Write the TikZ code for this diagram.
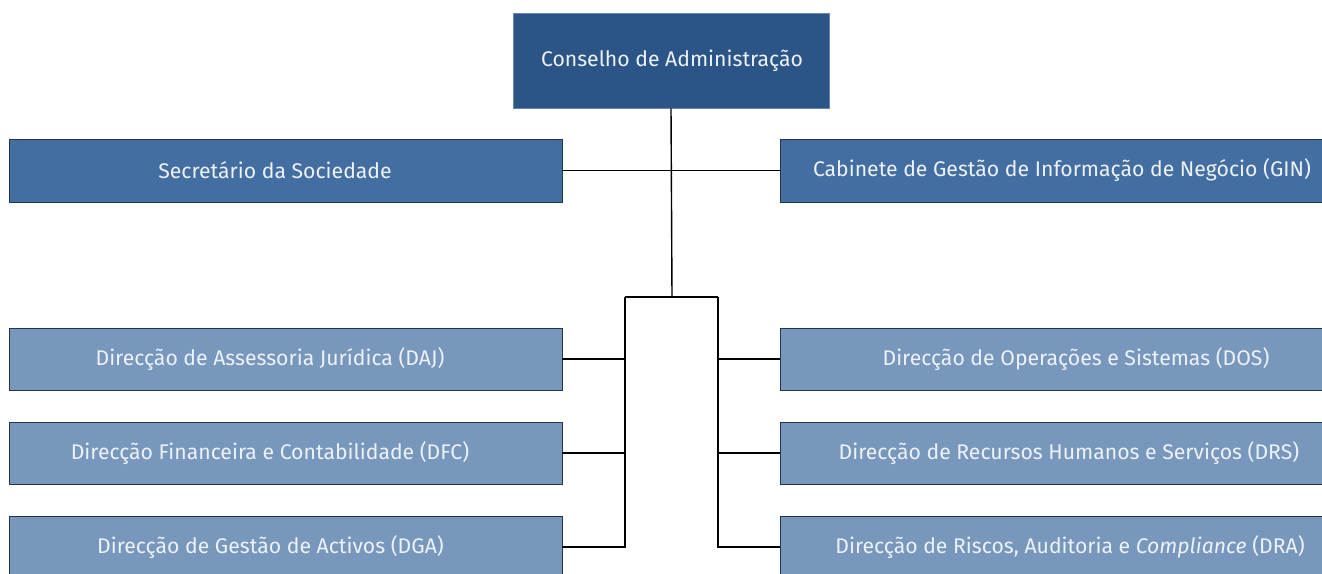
\documentclass[tikz,border=0pt]{standalone}
\usepackage{fontspec}
\setmainfont{Fira Sans}
\definecolor{cTop}{HTML}{2B5586}
\definecolor{cMid}{HTML}{436EA1}
\definecolor{cLow}{HTML}{7897BD}
\definecolor{cEdge}{HTML}{23354D}
\definecolor{cTxt}{HTML}{EEF2F7}
\begin{document}
\begin{tikzpicture}[x=1pt,y=-1pt,
  box/.style={draw=cEdge, line width=0.9pt, rectangle, inner sep=0pt, minimum height=62pt},
  lbl/.style={text=cTxt, font=\fontsize{21.2}{24}\selectfont, inner sep=0pt},
  wire/.style={draw=black, line width=1.4pt}]
\useasboundingbox (0,0) rectangle (1322,573);
\clip (0,0) rectangle (1322,573);
\fill[white] (0,0) rectangle (1322,573);
% boxes
\node[box, fill=cTop, draw=cTop!70!white, minimum width=316pt, minimum height=95pt] (top) at (671,60.5) {};
\node[box, fill=cMid, minimum width=553pt, minimum height=63pt] (sec) at (285.5,170.5) {};
\node[box, fill=cMid, minimum width=560pt, minimum height=63pt] (gin) at (1060,170.5) {};
\node[box, fill=cLow, minimum width=553pt] (daj) at (285.5,359) {};
\node[box, fill=cLow, minimum width=553pt] (dfc) at (285.5,453) {};
\node[box, fill=cLow, minimum width=553pt] (dga) at (285.5,547) {};
\node[box, fill=cLow, minimum width=560pt] (dos) at (1060,359) {};
\node[box, fill=cLow, minimum width=560pt] (drs) at (1060,453) {};
\node[box, fill=cLow, minimum width=560pt] (dra) at (1060,547) {};
% labels
\node[lbl] (ttop) at (672,60.5) {Conselho de Administração};
\node[lbl] (tsec) at (275,170.5) {Secretário da Sociedade};
\node[lbl] (tgin) at (1062,170.5) {Cabinete de Gestão de Informação de Negócio (GIN)};
\node[lbl] (tdaj) at (270,359) {Direcção de Assessoria Jurídica (DAJ)};
\node[lbl] (tdfc) at (270,453) {Direcção Financeira e Contabilidade (DFC)};
\node[lbl] (tdga) at (270.5,547) {Direcção de Gestão de Activos (DGA)};
\node[lbl] (tdos) at (1076,359) {Direcção de Operações e Sistemas (DOS)};
\node[lbl] (tdrs) at (1069,453) {Direcção de Recursos Humanos e Serviços (DRS)};
\node[lbl] (tdra) at (1070,547) {Direcção de Riscos, Auditoria e \textit{Compliance} (DRA)};
% connectors
\coordinate (j) at (672,297);
\coordinate (jl) at (625,297);
\coordinate (jr) at (718,297);
\draw[wire] (top.south) -- (j);
\draw[wire] (sec.east) -- (gin.west);
\draw[wire] (jl) -- (jr);
\draw[wire] (jl) -- (dga.east -| jl) -- (dga.east);
\draw[wire] (jr) -- (dra.west -| jr) -- (dra.west);
\draw[wire] (daj.east) -- (daj.east -| jl);
\draw[wire] (dfc.east) -- (dfc.east -| jl);
\draw[wire] (dos.west) -- (dos.west -| jr);
\draw[wire] (drs.west) -- (drs.west -| jr);
\end{tikzpicture}
\end{document}
